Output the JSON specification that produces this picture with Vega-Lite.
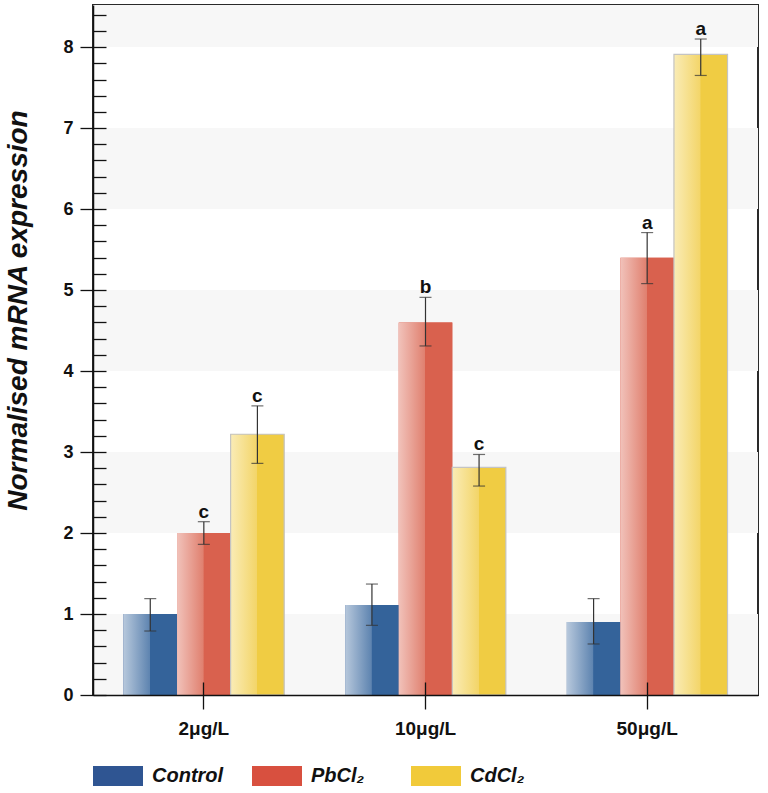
{
  "$schema": "https://vega.github.io/schema/vega-lite/v6.json",
  "width": 665,
  "height": 690,
  "autosize": {"type": "none"},
  "padding": {"left": 93, "top": 5, "right": 10, "bottom": 98},
  "background": "white",
  "config": {
    "view": {"stroke": "#2a2a2a", "strokeWidth": 2},
    "font": "Liberation Sans",
    "axis": {"labelOverlap": false}
  },
  "datasets": {
    "stripes": [
      {"lo": 0, "hi": 1},
      {"lo": 2, "hi": 3},
      {"lo": 4, "hi": 5},
      {"lo": 6, "hi": 7},
      {"lo": 8, "hi": 8.52}
    ],
    "expr": [
      {"dose": "2μg/L", "series": "Control", "mean": 1.0, "lo": 0.79, "hi": 1.19, "letter": ""},
      {"dose": "2μg/L", "series": "PbCl₂", "mean": 2.0, "lo": 1.86, "hi": 2.14, "letter": "c"},
      {"dose": "2μg/L", "series": "CdCl₂", "mean": 3.22, "lo": 2.86, "hi": 3.57, "letter": "c"},
      {"dose": "10μg/L", "series": "Control", "mean": 1.11, "lo": 0.86, "hi": 1.37, "letter": ""},
      {"dose": "10μg/L", "series": "PbCl₂", "mean": 4.6, "lo": 4.31, "hi": 4.91, "letter": "b"},
      {"dose": "10μg/L", "series": "CdCl₂", "mean": 2.81, "lo": 2.58, "hi": 2.97, "letter": "c"},
      {"dose": "50μg/L", "series": "Control", "mean": 0.9, "lo": 0.63, "hi": 1.19, "letter": ""},
      {"dose": "50μg/L", "series": "PbCl₂", "mean": 5.4, "lo": 5.08, "hi": 5.71, "letter": "a"},
      {"dose": "50μg/L", "series": "CdCl₂", "mean": 7.91, "lo": 7.65, "hi": 8.1, "letter": "a"}
    ]
  },
  "resolve": {"axis": {"y": "independent"}},
  "layer": [
    {
      "data": {"name": "stripes"},
      "mark": {"type": "rect", "color": "#f7f7f7"},
      "encoding": {
        "y": {
          "field": "lo",
          "type": "quantitative",
          "scale": {"domain": [0, 8.52], "nice": false, "zero": true},
          "axis": {
            "orient": "left",
            "zindex": 1,
            "title": "Normalised mRNA expression",
            "titleFont": "Liberation Sans",
            "titleFontSize": 28,
            "titleFontWeight": "bold",
            "titleFontStyle": "italic",
            "titleColor": "#111",
            "titleBaseline": "alphabetic",
            "titleX": -67,
            "titleY": 305,
            "values": [0, 1, 2, 3, 4, 5, 6, 7, 8],
            "format": "d",
            "labelOverlap": false,
            "labelFont": "Liberation Sans",
            "labelFontSize": 18,
            "labelFontWeight": "bold",
            "labelColor": "#111",
            "labelPadding": 7,
            "tickSize": 13,
            "tickColor": "#111",
            "tickWidth": 1.3,
            "grid": false,
            "domainColor": "#111",
            "domainWidth": 1.5
          }
        },
        "y2": {"field": "hi"}
      }
    },
    {
      "data": {"name": "stripes"},
      "mark": {"type": "rect", "opacity": 0},
      "encoding": {
        "y": {
          "field": "lo",
          "type": "quantitative",
          "axis": {
            "orient": "left",
            "zindex": 1,
            "title": null,
            "values": [0,0.2,0.4,0.6,0.8,1,1.2,1.4,1.6,1.8,2,2.2,2.4,2.6,2.8,3,3.2,3.4,3.6,3.8,4,4.2,4.4,4.6,4.8,5,5.2,5.4,5.6,5.8,6,6.2,6.4,6.6,6.8,7,7.2,7.4,7.6,7.8,8,8.2,8.4],
            "labels": false,
            "ticks": false,
            "domain": false,
            "grid": true,
            "gridColor": "#111",
            "gridWidth": 1.3,
            "gridOpacity": 1,
            "gridDash": [13, 3000]
          }
        },
        "y2": {"field": "hi"}
      }
    },
    {
      "data": {"name": "expr"},
      "layer": [
        {
          "mark": {"type": "bar"},
          "encoding": {
            "color": {
              "field": "series",
              "type": "nominal",
              "scale": {
                "domain": ["Control", "PbCl₂", "CdCl₂"],
                "range": ["#2f5592", "#d8503f", "#f1ca3a"]
              },
              "legend": {
                "title": null,
                "orient": "bottom",
                "direction": "horizontal",
                "offset": 13,
                "symbolType": "M-1,-0.4H1V0.4H-1Z",
                "symbolSize": 2500,
                "symbolStrokeWidth": 0,
                "symbolOpacity": 1,
                "labelFont": "Liberation Sans",
                "labelFontSize": 20,
                "labelFontWeight": "bold",
                "labelFontStyle": "italic",
                "labelColor": "#111",
                "labelOffset": 9,
                "columnPadding": 28,
                "gridAlign": "all"
              }
            }
          }
        },
        {
          "transform": [{"filter": "datum.series === 'Control'"}],
          "mark": {"type": "bar", "color": {"gradient": "linear", "x1": 0, "y1": 0, "x2": 1, "y2": 0, "stops": [{"offset": 0, "color": "#b7c8dc"}, {"offset": 0.49, "color": "#5e84b0"}, {"offset": 0.5, "color": "#34639a"}, {"offset": 1, "color": "#34639a"}]}}
        },
        {
          "transform": [{"filter": "datum.series === 'PbCl₂'"}],
          "mark": {"type": "bar", "color": {"gradient": "linear", "x1": 0, "y1": 0, "x2": 1, "y2": 0, "stops": [{"offset": 0, "color": "#f1c2ba"}, {"offset": 0.49, "color": "#e0806f"}, {"offset": 0.5, "color": "#d9614e"}, {"offset": 1, "color": "#d9614e"}]}}
        },
        {
          "transform": [{"filter": "datum.series === 'CdCl₂'"}],
          "mark": {"type": "bar", "stroke": "#c4c4c4", "strokeWidth": 1.2, "color": {"gradient": "linear", "x1": 0, "y1": 0, "x2": 1, "y2": 0, "stops": [{"offset": 0, "color": "#faecb6"}, {"offset": 0.49, "color": "#f3d569"}, {"offset": 0.5, "color": "#f0cc43"}, {"offset": 1, "color": "#f0cc43"}]}}
        },
        {
          "mark": {"type": "rule", "color": "#333", "strokeWidth": 1.2},
          "encoding": {"y": {"field": "lo", "type": "quantitative", "axis": null}, "y2": {"field": "hi"}}
        },
        {
          "mark": {"type": "tick", "color": "#333", "size": 12, "thickness": 1.2},
          "encoding": {"y": {"field": "lo", "type": "quantitative", "axis": null}}
        },
        {
          "mark": {"type": "tick", "color": "#333", "size": 12, "thickness": 1.2},
          "encoding": {"y": {"field": "hi", "type": "quantitative", "axis": null}}
        },
        {
          "transform": [{"filter": "datum.letter !== ''"}],
          "mark": {"type": "text", "font": "Liberation Sans", "fontSize": 19, "fontWeight": "bold", "color": "#111", "baseline": "alphabetic", "dy": -4},
          "encoding": {"y": {"field": "hi", "type": "quantitative", "axis": null}, "text": {"field": "letter"}}
        }
      ],
      "encoding": {
        "x": {
          "field": "dose",
          "type": "nominal",
          "sort": ["2μg/L", "10μg/L", "50μg/L"],
          "scale": {"paddingInner": 0.275, "paddingOuter": 0.1375},
          "axis": {
            "zindex": 1,
            "title": null,
            "labelAngle": 0,
            "labelFont": "Liberation Sans",
            "labelFontSize": 19,
            "labelFontWeight": "bold",
            "labelColor": "#111",
            "labelPadding": 10,
            "tickSize": 14,
            "tickColor": "#111",
            "tickWidth": 1.3,
            "domainColor": "#111",
            "domainWidth": 1.5,
            "bandPosition": 0.5,
            "grid": true,
            "gridColor": "#111",
            "gridWidth": 1.3,
            "gridOpacity": 1,
            "gridDash": [0, 677, 13, 3000]
          }
        },
        "xOffset": {
          "field": "series",
          "type": "nominal",
          "sort": ["Control", "PbCl₂", "CdCl₂"],
          "scale": {"paddingInner": 0, "paddingOuter": 0}
        },
        "y": {"field": "mean", "type": "quantitative", "axis": null}
      }
    }
  ]
}
